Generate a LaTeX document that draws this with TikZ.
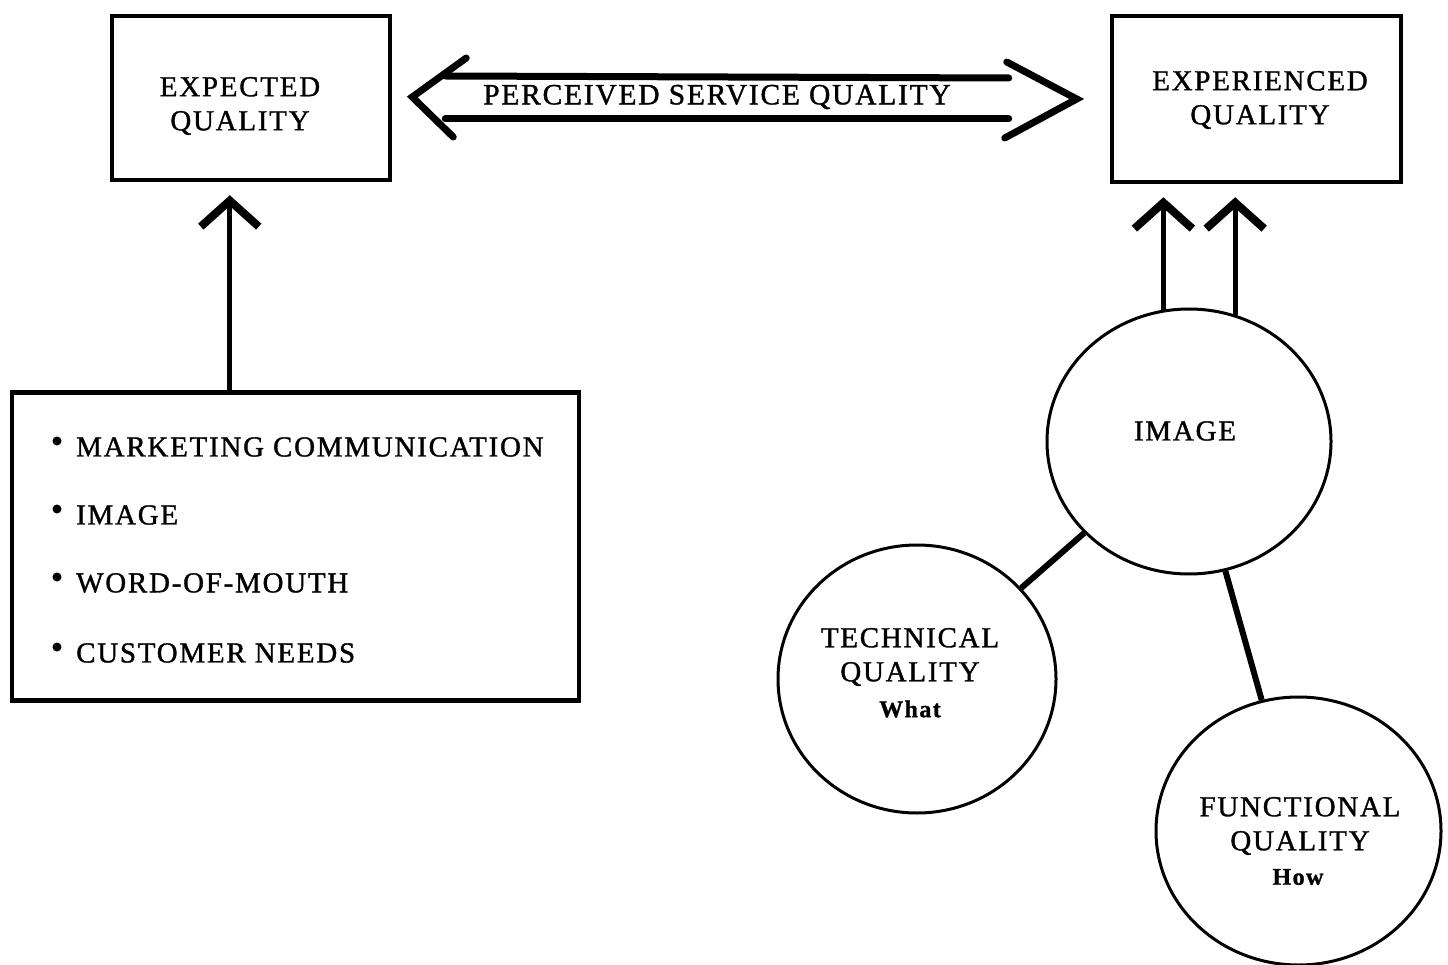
\documentclass[tikz,border=0pt]{standalone}
\usepackage{fontspec}
\setmainfont{Liberation Serif}[FakeBold=1.2,LetterSpace=6]
\usetikzlibrary{arrows.meta,calc,shapes.geometric}
\begin{document}
\begin{tikzpicture}[x=1pt,y=-1pt,
  box/.style={draw,line width=4.5pt,inner sep=0pt},
  circ/.style={draw,ellipse,line width=3pt,inner sep=0pt},
  lbl/.style={font=\fontsize{29}{34}\selectfont,align=center,inner sep=0pt},
  item/.style={font=\fontsize{29}{34}\selectfont,anchor=west,inner sep=0pt},
  small/.style={font=\bfseries\fontsize{24}{30}\selectfont},
  up/.style={line width=5pt,shorten >=13pt,
    -{Straight Barb[length=26pt,width=58pt,line width=8pt]}},
  hollow/.style={line width=7pt,line cap=round,line join=miter},
  link/.style={line width=6pt}
]
\useasboundingbox (0,0) rectangle (1448,965);

% boxes
\node[box,minimum width=278pt,minimum height=164pt] (eq) at (251,98) {};
\node[box,minimum width=289pt,minimum height=166pt] (xq) at (1256.5,99) {};
\node[box,minimum width=567pt,minimum height=308pt] (src) at (295.5,546.5) {};

\node[lbl] at (240,106) {EXPECTED\\QUALITY};
\node[lbl] at (1260,100) {EXPERIENCED\\QUALITY};

% list of sources
\foreach \t/\y in {MARKETING COMMUNICATION/447, IMAGE/515, WORD-OF-MOUTH/583, CUSTOMER NEEDS/653}{
  \fill (57,\y-6) circle (4.5pt);
  \node[item] at (76,\y) {\t};
}

% quality circles
\node[circ,minimum width=284pt,minimum height=265pt] (img) at (1189,441.5) {};
\node[circ,minimum width=278pt,minimum height=268pt] (tech) at (917,679) {};
\node[circ,minimum width=285pt,minimum height=268pt] (func) at (1298.5,831) {};

\node[lbl] at (1185,431) {IMAGE};
\node[lbl] (techlbl) at (910,657) {TECHNICAL\\QUALITY};
\node[small] at (910,709) {What};
\node[lbl] (funclbl) at (1300,826) {FUNCTIONAL\\QUALITY};
\node[small] at (1298,877) {How};

% links between the quality circles
\draw[link] (img) -- (tech);
\draw[link] (img) -- (func);

% arrows into the quality boxes
\coordinate (s1) at ($(src.north west)!0.385!(src.north east)$);
\draw[up] (s1) -- (s1 |- eq.south);
\draw[up] (img.101) -- (img.101 |- xq.south);
\draw[up] (img.70) -- (img.70 |- xq.south);

% hollow double arrow
\coordinate (lt) at ($(eq.east)+(20,-1)$);
\coordinate (rt) at ($(xq.west)+(-33,0)$);
\draw[hollow] ($(lt)+(54,-39)$) -- (lt) -- ($(lt)+(41,40)$);
\draw[hollow] ($(rt)+(-70,-37)$) -- (rt) -- ($(rt)+(-72,39)$);
\draw[hollow] ($(lt)+(33,-21)$) -- ($(rt)+(-68,-21)$);
\draw[hollow] ($(lt)+(33,22)$) -- ($(rt)+(-68,20)$);
\node[lbl,font=\fontsize{29.5}{34}\selectfont] (psq) at (717,97) {PERCEIVED SERVICE QUALITY};
\end{tikzpicture}
\end{document}
